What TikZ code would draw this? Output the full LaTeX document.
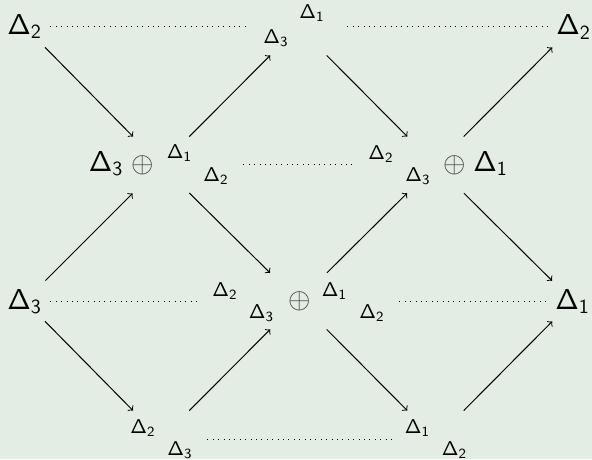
\documentclass[tikz,border=0pt]{standalone}
\usepackage{amsmath}
\definecolor{bg}{RGB}{228,237,228}
\newcommand{\Dl}[1]{\ensuremath{\mathsf{\Delta_{#1}}}}
\begin{document}
\begin{tikzpicture}[x=0.5pt,y=-0.5pt,
  big/.style={inner sep=0, font=\fontsize{14.4}{17}\selectfont},
  sml/.style={inner sep=0, font=\fontsize{10.3}{12}\selectfont},
  plus/.style={inner sep=0, font=\fontsize{14.4}{17}\selectfont, text=black!75},
  vtx/.style={inner sep=0, minimum size=28pt},
  lone/.style={inner sep=0, minimum size=20pt},
  arr/.style={-to, line width=0.5pt},
  dotline/.style={line width=0.5pt, dash pattern=on 0.5pt off 2.2pt}]
\fill[bg] (0,0) rectangle (592,459);
\useasboundingbox (0,0) rectangle (592,459);
% invisible vertex frames
\node[lone] (A) at (25,27) {};
\node[vtx]  (B) at (298.5,27) {};
\node[lone] (C) at (572.5,27) {};
\node[vtx]  (D) at (161,165) {};
\node[vtx]  (E) at (435.5,165) {};
\node[lone] (F) at (25,301) {};
\node[vtx]  (G) at (298.5,301) {};
\node[lone] (H) at (572.5,301) {};
\node[vtx]  (I) at (161,439) {};
\node[vtx]  (J) at (435.5,439) {};
% texts
\node[big] (a1) at (24.5,26.5) {\Dl{2}};
\node[sml] (b1) at (276,38.5) {\Dl{3}};
\node[sml] (b2) at (312,13) {\Dl{1}};
\node[big] (c1) at (573.5,27) {\Dl{2}};
\node[big] (d1) at (106,163.5) {\Dl{3}};
\node[plus] (d2) at (143,165) {$\oplus$};
\node[sml] (d3) at (179.5,153) {\Dl{1}};
\node[sml] (d4) at (216,176) {\Dl{2}};
\node[sml] (e1) at (381,154) {\Dl{2}};
\node[sml] (e2) at (418,176) {\Dl{3}};
\node[plus] (e3) at (455,165) {$\oplus$};
\node[big] (e4) at (490.5,163.5) {\Dl{1}};
\node[big] (f1) at (24.5,301.5) {\Dl{3}};
\node[sml] (g1) at (225,291) {\Dl{2}};
\node[sml] (g2) at (261.5,313) {\Dl{3}};
\node[plus] (g3) at (299.5,301) {$\oplus$};
\node[sml] (g4) at (334.5,291) {\Dl{1}};
\node[sml] (g5) at (372,313) {\Dl{2}};
\node[big] (h1) at (572.5,301.5) {\Dl{1}};
\node[sml] (i1) at (143,428) {\Dl{2}};
\node[sml] (i2) at (180,450.5) {\Dl{3}};
\node[sml] (j1) at (417.5,428) {\Dl{1}};
\node[sml] (j2) at (454.5,450.5) {\Dl{2}};
% arrows
\draw[arr] (A) -- (D);
\draw[arr] (D) -- (B);
\draw[arr] (B) -- (E);
\draw[arr] (E) -- (C);
\draw[arr] (F) -- (D);
\draw[arr] (D) -- (G);
\draw[arr] (G) -- (E);
\draw[arr] (E) -- (H);
\draw[arr] (F) -- (I);
\draw[arr] (I) -- (G);
\draw[arr] (G) -- (J);
\draw[arr] (J) -- (H);
% dotted lines
\draw[dotline, shorten <=2.5pt, shorten >=10.25pt] (A) -- (B);
\draw[dotline, shorten <=10.25pt, shorten >=2.25pt] (B) -- (C);
\draw[dotline, shorten <=27pt, shorten >=26.25pt] (D) -- (E);
\draw[dotline, shorten <=2.5pt, shorten >=35.25pt] (F) -- (G);
\draw[dotline, shorten <=36.25pt, shorten >=2.25pt] (G) -- (H);
\draw[dotline, shorten <=9pt, shorten >=7.75pt] (I) -- (J);
\end{tikzpicture}
\end{document}
